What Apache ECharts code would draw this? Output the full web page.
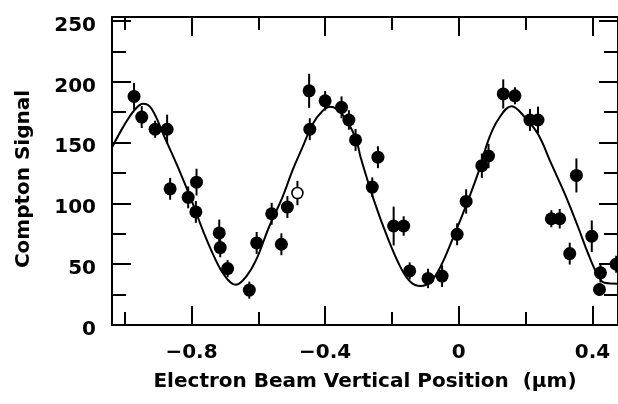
<!DOCTYPE html>
<html>
<head>
<meta charset="utf-8">
<script src="https://cdn.jsdelivr.net/npm/echarts@6/dist/echarts.min.js"></script>
<style>
  html, body { margin: 0; padding: 0; background: #fff; }
  #chart { width: 618px; height: 404px; }
</style>
</head>
<body>
<div id="chart"></div>
<script>
// Measured Compton signal versus electron beam vertical position (µm)
const beamPos = [-0.972, -0.949, -0.909, -0.873, -0.864, -0.810, -0.785, -0.787, -0.717, -0.714,
                 -0.692, -0.627, -0.605, -0.531, -0.560, -0.513, -0.448, -0.446, -0.400, -0.351,
                 -0.329, -0.309, -0.242, -0.259, -0.195, -0.165, -0.147, -0.092, -0.050, -0.005,
                  0.022,  0.069,  0.089,  0.133,  0.168,  0.213,  0.237,  0.352,  0.277,  0.302,
                  0.332,  0.398,  0.424,  0.421,  0.471];
const signal  = [188, 171, 161, 161, 112, 105, 117.5, 93, 75.7, 63.7,
                 46.4, 28.7, 67.5, 66.4, 91.5, 97, 192.6, 161, 184.4, 179,
                 168.6, 152.2, 138, 113.4, 81.4, 81.4, 44.5, 38.3, 40.2, 74.6,
                 101.6, 131, 139, 190, 188.5, 168.6, 168.6, 123, 87.4, 87.4,
                 58.7, 73, 42.9, 29.2, 50];
const signalErr = [11, 9, 7, 12, 9, 9, 11, 9, 11, 8,
                   7, 7, 9, 9, 9, 9, 14, 9, 8, 9,
                   8, 9, 9, 8, 16, 8, 7, 8, 9, 9,
                   10, 10, 10, 12, 7, 9, 11, 14, 7, 8,
                   9, 13, 8, 5, 7];

// Single measurement drawn as an open circle
const openPos = [-0.483];
const openSignal = [108.5];
const openErr = [10];

// Fitted modulation curve
const fitPos = [-1.038, -1.0, -0.97, -0.945, -0.92, -0.88, -0.841, -0.8, -0.762, -0.732,
                -0.702, -0.667, -0.637, -0.607, -0.568, -0.528, -0.498, -0.468, -0.438, -0.408,
                -0.384, -0.349, -0.309, -0.294, -0.254, -0.214, -0.175, -0.145, -0.115, -0.085,
                -0.055, -0.016, 0.024, 0.064, 0.088, 0.118, 0.158, 0.198, 0.237,
                 0.277, 0.317, 0.357, 0.387, 0.416, 0.436, 0.476];
const fitSignal = [146, 165, 177, 182, 178, 154, 130, 102.5, 75, 56,
                   41, 33, 39.6, 53.3, 80.6, 105, 127, 146, 165, 176,
                   179.5, 173.5, 154, 138, 102.5, 72.4, 47.8, 35.5, 32, 35.5,
                   47.8, 72.4, 99.8, 129.8, 151.6, 169, 180, 170.7, 157,
                   132.5, 108, 80.6, 58.8, 41, 34.7, 34];

// Axis ticks
const xTickMajor = [-0.8, -0.4, 0, 0.4];
const xTickMinor = [-1.0, -0.6, -0.2, 0.2];
const yTickMajor = [0, 50, 100, 150, 200, 250];
const yTickMinor = [25, 75, 125, 175, 225];

const xMin = -1.038, xMax = 0.4765;
const yMin = 0, yMax = 253.3;

const FONT = 'DejaVu Sans';
const INK = '#000';

const fmtX = v => (v < 0 ? '\u2212' + String(Math.abs(v)) : String(v));

function xAxisDef(pos, ticks, len, withLine, withLabels) {
  return {
    type: 'value', position: pos, min: xMin, max: xMax,
    splitLine: { show: false },
    axisLine: { show: withLine, onZero: false, lineStyle: { color: INK, width: 2 } },
    axisTick: { show: true, inside: true, length: len, customValues: ticks,
                lineStyle: { color: INK, width: 2 } },
    axisLabel: { show: withLabels, customValues: ticks, formatter: fmtX, margin: 18,
                 color: INK, fontFamily: FONT, fontSize: 20, fontWeight: 'bold' }
  };
}
function yAxisDef(pos, ticks, len, withLine, withLabels) {
  return {
    type: 'value', position: pos, min: yMin, max: yMax,
    splitLine: { show: false },
    axisLine: { show: withLine, onZero: false, lineStyle: { color: INK, width: 2 } },
    axisTick: { show: true, inside: true, length: len, customValues: ticks,
                lineStyle: { color: INK, width: 2 } },
    axisLabel: { show: withLabels, customValues: ticks, margin: 16,
                 verticalAlign: 'top', lineHeight: 9,
                 color: INK, fontFamily: FONT, fontSize: 20, fontWeight: 'bold' }
  };
}

const xBottom = xAxisDef('bottom', xTickMajor, 19, true, true);
xBottom.name = 'Electron Beam Vertical Position  (\u00b5m)';
xBottom.nameLocation = 'middle';
xBottom.nameGap = 47;
xBottom.nameTextStyle = { color: INK, fontFamily: FONT, fontSize: 20, fontWeight: 'bold' };

const chart = echarts.init(document.getElementById('chart'), null, { renderer: 'canvas' });

const errorBars = (data) => ({
  type: 'custom',
  xAxisIndex: 0, yAxisIndex: 0,
  data: data,
  z: 3,
  renderItem: function (params, api) {
    const x = api.value(0), y = api.value(1), e = api.value(2);
    const lo = api.coord([x, y - e]);
    const hi = api.coord([x, y + e]);
    return {
      type: 'line',
      shape: { x1: lo[0], y1: lo[1], x2: hi[0], y2: hi[1] },
      style: { stroke: INK, lineWidth: 2 }
    };
  }
});

chart.setOption({
  animation: false,
  backgroundColor: '#fff',
  grid: { left: 112, right: 0, top: 17, bottom: 79, containLabel: false },
  graphic: [{
    type: 'text',
    x: 24, y: 179,
    rotation: Math.PI / 2,
    style: {
      text: 'Compton Signal',
      x: 0, y: 0, align: 'center', verticalAlign: 'middle',
      fill: INK, font: 'bold 20px "DejaVu Sans"'
    }
  }],
  xAxis: [
    xBottom,
    xAxisDef('bottom', xTickMinor, 13, false, false),
    xAxisDef('top', xTickMajor, 19, true, false),
    xAxisDef('top', xTickMinor, 13, false, false)
  ],
  yAxis: [
    yAxisDef('left', yTickMajor, 19, true, true),
    yAxisDef('left', yTickMinor, 14, false, false),
    yAxisDef('right', yTickMajor, 19, true, false),
    yAxisDef('right', yTickMinor, 14, false, false)
  ],
  series: [
    {
      type: 'line', xAxisIndex: 0, yAxisIndex: 0, z: 2,
      data: fitPos.map((x, i) => [x, fitSignal[i]]),
      smooth: 0.4, showSymbol: false, symbol: 'none',
      lineStyle: { color: INK, width: 2 }
    },
    errorBars(beamPos.map((x, i) => [x, signal[i], signalErr[i]])),
    errorBars(openPos.map((x, i) => [x, openSignal[i], openErr[i]])),
    {
      type: 'scatter', xAxisIndex: 0, yAxisIndex: 0, z: 4,
      data: beamPos.map((x, i) => [x, signal[i]]),
      symbol: 'circle', symbolSize: 13,
      itemStyle: { color: INK, opacity: 1 }
    },
    {
      type: 'scatter', xAxisIndex: 0, yAxisIndex: 0, z: 4,
      data: openPos.map((x, i) => [x, openSignal[i]]),
      symbol: 'circle', symbolSize: 11,
      itemStyle: { color: '#fff', borderColor: INK, borderWidth: 1.6, opacity: 1 }
    }
  ]
});
</script>
</body>
</html>
